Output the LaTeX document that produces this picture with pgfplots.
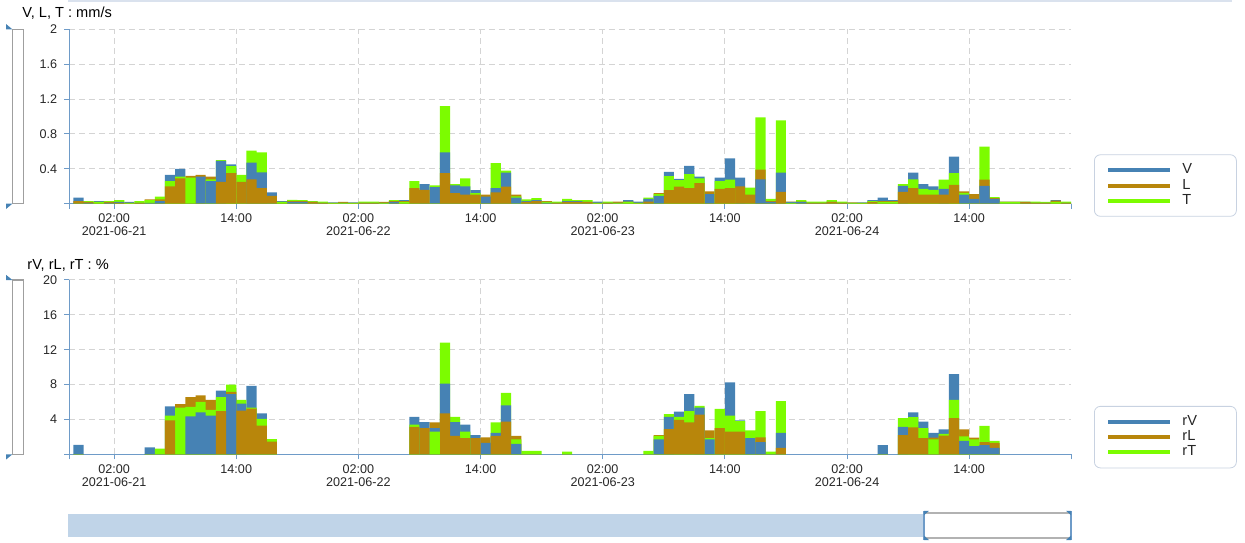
\documentclass[border=0pt]{standalone}
\usepackage{fontspec}
\setmainfont{Liberation Sans}
\usepackage{pgfplots}
\usepackage{pgfplotstable}
\pgfplotsset{compat=1.18}

\definecolor{cV}{RGB}{70,130,180}
\definecolor{cL}{RGB}{184,134,11}
\definecolor{cT}{RGB}{124,252,0}
\definecolor{axisblue}{RGB}{110,155,200}
\definecolor{gridgray}{RGB}{212,212,212}
\definecolor{navblue}{RGB}{192,212,232}
\definecolor{legendgray}{RGB}{200,210,225}
\definecolor{topline}{RGB}{218,226,238}

\newcommand\tickfont{\fontsize{6.3}{6.6}\selectfont}
\newcommand\titlefont{\fontsize{7.3}{8.5}\selectfont}

% hourly values, h = hours from 2021-06-21 00:00 (bar covers h..h+1)
\pgfplotstableread{
h V L T
-2 0.07 0.03 0
-1 0.01 0.02 0.03
0 0.03 0.02 0.02
1 0.01 0.02 0.03
2 0.02 0.01 0.04
3 0.02 0.01 0.01
4 0.01 0.01 0.03
5 0.01 0.05 0.04
6 0.03 0.05 0.08
7 0.33 0.20 0.26
8 0.40 0.29 0.31
9 0 0.32 0.30
10 0.31 0.33 0
11 0.26 0.31 0.28
12 0.49 0.25 0.50
13 0.45 0.35 0.43
14 0 0.25 0.33
15 0.47 0.28 0.61
16 0.36 0.18 0.59
17 0.13 0.09 0
18 0.03 0.02 0.02
19 0.02 0.03 0.045
20 0.02 0.03 0.04
21 0.02 0.02 0.03
22 0.01 0.01 0.025
23 0.015 0.01 0.01
24 0.01 0.02 0.01
25 0.015 0.01 0.01
26 0.01 0.01 0.025
27 0.01 0.01 0.025
28 0.01 0.02 0.01
29 0.02 0.03 0.04
30 0.04 0.03 0.02
31 0 0.18 0.26
32 0.225 0.16 0
33 0.19 0 0.21
34 0.59 0.35 1.12
35 0.21 0.12 0.225
36 0.20 0.105 0.29
37 0.155 0.105 0.12
38 0.08 0.105 0
39 0.18 0.13 0.465
40 0.355 0.195 0.38
41 0.07 0.105 0.085
42 0.03 0.02 0.05
43 0.04 0.03 0.065
44 0.01 0.03 0.02
45 0.01 0.01 0.025
46 0.03 0.02 0.055
47 0.03 0.02 0.04
48 0.02 0.02 0.04
49 0.025 0.01 0.01
50 0.01 0.01 0.025
51 0.01 0.025 0.01
52 0.04 0.025 0.02
53 0.025 0.01 0.01
54 0.055 0.025 0.07
55 0.09 0.12 0.11
56 0.365 0.155 0.315
57 0.285 0.195 0.27
58 0.435 0.18 0.34
59 0.31 0.235 0.29
60 0.11 0.14 0
61 0.30 0.17 0.26
62 0.52 0.18 0.275
63 0.30 0.20 0
64 0 0.105 0.185
65 0.28 0.39 0.99
66 0.02 0.03 0.055
67 0.355 0.135 0.955
68 0.02 0.025 0.01
69 0.02 0.025 0.04
70 0.01 0.01 0.025
71 0.01 0.01 0.025
72 0.02 0.02 0.04
73 0.01 0.01 0.025
74 0.01 0.015 0.01
75 0.015 0.01 0.01
76 0.04 0.02 0.03
77 0.07 0.03 0.02
78 0.04 0.03 0.02
79 0.205 0.135 0.225
80 0.355 0.18 0.28
81 0.225 0.105 0.17
82 0.20 0.105 0.16
83 0.17 0.105 0.275
84 0.54 0.215 0.35
85 0.105 0.14 0.125
86 0.055 0.11 0
87 0.205 0.275 0.655
88 0.055 0.065 0.075
89 0.02 0.025 0.02
90 0.02 0.025 0.02
91 0.02 0.02 0.025
92 0.01 0.01 0.025
93 0.01 0.01 0.02
94 0.04 0.035 0.02
95 0.01 0.01 0.025
}\topdata

\pgfplotstableread{
h rV rL rT
-2 1.07 0 0
5 0.8 0 0
6 0 0 0.65
7 5.5 3.9 4.45
8 0 5.75 5.35
9 4.35 6.55 5.45
10 4.8 6.75 6.0
11 4.45 6.25 5.1
12 7.3 4.95 6.55
13 6.9 7.15 8.0
14 5.8 5.0 6.25
15 7.85 5.25 5.35
16 4.7 3.3 4.05
17 0 1.45 1.75
31 4.3 3.15 3.4
32 3.7 3.0 0
33 3.0 3.65 2.6
34 8.1 4.7 12.8
35 3.7 2.1 4.3
36 3.4 1.85 2.6
37 2.2 1.85 0
38 1.3 1.95 0
39 2.45 2.1 3.65
40 5.6 3.75 7.05
41 1.2 2.1 1.7
42 0 0 0.4
43 0 0 0.4
46 0 0 0.3
54 0 0 0.4
55 1.7 2.2 2.1
56 4.3 2.9 4.6
57 4.9 3.95 4.3
58 6.9 3.65 4.95
59 5.35 4.55 5.55
60 1.7 2.75 1.85
61 0 3.0 5.2
62 8.25 2.6 4.45
63 3.9 2.6 3.8
64 1.85 0 2.75
65 1.4 1.95 4.95
66 0 0 0.3
67 2.45 0.75 6.1
77 1.05 0 0
79 3.15 2.2 4.15
80 4.8 3.1 4.25
81 3.75 1.85 3.0
82 2.45 1.9 1.7
83 2.85 2.15 2.35
84 9.2 4.15 6.25
85 1.55 2.85 2.05
86 0.95 1.9 1.7
87 1.05 1.4 3.25
88 0.75 1.3 1.55
}\botdata

\pgfplotsset{
  bar/.style={ybar, bar width=1, bar shift=0pt, draw=none, fill=#1, forget plot},
  chart/.style={
    scale only axis, width=500.85pt, height=87.2pt,
    xmin=-2.4, xmax=96, ymin=0,
    axis x line=bottom, axis y line=left,
    axis line style={-, draw=axisblue, line width=0.6pt},
    tick style={draw=axisblue, line width=0.5pt},
    tick align=outside, major tick length=2.5pt,
    xtick={2,14,26,38,50,62,74,86},
    xticklabels={{02:00\\2021-06-21},{14:00},{02:00\\2021-06-22},{14:00},{02:00\\2021-06-23},{14:00},{02:00\\2021-06-24},{14:00}},
    extra x ticks={-2.4,96}, extra x tick labels={}, extra x tick style={grid=none},
    extra y ticks={0}, extra y tick labels={}, extra y tick style={grid=none},
    xticklabel style={align=center, font=\tickfont, text=black!85, yshift=1pt},
    yticklabel style={font=\tickfont, text=black!85},
    grid=major,
    major grid style={draw=gridgray, dash pattern=on 3pt off 2pt, line width=0.5pt},
    /pgf/number format/assume math mode=true,
    legend image code/.code={\draw[##1, line width=2pt] (0pt,0pt) -- (31pt,0pt);},
    legend cell align=left,
    legend style={at={(1,0)}, anchor=south west, xshift=11.5pt,
      draw=legendgray, rounded corners=3pt, inner xsep=6pt, inner ysep=3.5pt,
      font=\titlefont, text=black!85, row sep=-0.9pt, nodes={inner sep=1pt},
      /tikz/every odd column/.append style={column sep=4pt}},
  }
}

% overlapping bars: tallest drawn behind, shortest in front
\newcommand{\ovbars}[4]{%
  \addplot[bar=cV] table[x expr=\thisrow{h}+0.5, y expr={and(\thisrow{#2}>=\thisrow{#3},\thisrow{#2}>=\thisrow{#4})*\thisrow{#2}}] {#1};
  \addplot[bar=cL] table[x expr=\thisrow{h}+0.5, y expr={and(\thisrow{#3}>=\thisrow{#2},\thisrow{#3}>=\thisrow{#4})*\thisrow{#3}}] {#1};
  \addplot[bar=cT] table[x expr=\thisrow{h}+0.5, y expr={and(\thisrow{#4}>=\thisrow{#2},\thisrow{#4}>=\thisrow{#3})*\thisrow{#4}}] {#1};
  \addplot[bar=cV] table[x expr=\thisrow{h}+0.5, y expr={(1-and(\thisrow{#2}>=\thisrow{#3},\thisrow{#2}>=\thisrow{#4}))*(1-and(\thisrow{#2}<=\thisrow{#3},\thisrow{#2}<=\thisrow{#4}))*\thisrow{#2}}] {#1};
  \addplot[bar=cL] table[x expr=\thisrow{h}+0.5, y expr={(1-and(\thisrow{#3}>=\thisrow{#2},\thisrow{#3}>=\thisrow{#4}))*(1-and(\thisrow{#3}<=\thisrow{#2},\thisrow{#3}<=\thisrow{#4}))*\thisrow{#3}}] {#1};
  \addplot[bar=cT] table[x expr=\thisrow{h}+0.5, y expr={(1-and(\thisrow{#4}>=\thisrow{#2},\thisrow{#4}>=\thisrow{#3}))*(1-and(\thisrow{#4}<=\thisrow{#2},\thisrow{#4}<=\thisrow{#3}))*\thisrow{#4}}] {#1};
  \addplot[bar=cV] table[x expr=\thisrow{h}+0.5, y expr={and(\thisrow{#2}<=\thisrow{#3},\thisrow{#2}<=\thisrow{#4})*\thisrow{#2}}] {#1};
  \addplot[bar=cL] table[x expr=\thisrow{h}+0.5, y expr={and(\thisrow{#3}<=\thisrow{#2},\thisrow{#3}<=\thisrow{#4})*\thisrow{#3}}] {#1};
  \addplot[bar=cT] table[x expr=\thisrow{h}+0.5, y expr={and(\thisrow{#4}<=\thisrow{#2},\thisrow{#4}<=\thisrow{#3})*\thisrow{#4}}] {#1};
}

\begin{document}
\begin{tikzpicture}
\useasboundingbox (0,0) rectangle (622.5pt,271pt);

% top frame line
\draw[topline, line width=0.8pt] (34pt,270.4pt) -- (616pt,270.4pt);

% range sliders on the left
\draw[gray!75, fill=white, line width=0.6pt] (6.15pt,169.15pt) rectangle (11.65pt,256.35pt);
\fill[cV] (3pt,259pt) -- (6.2pt,256.35pt) -- (3pt,256.35pt) -- cycle;
\fill[cV] (3pt,169.15pt) -- (6.2pt,169.15pt) -- (3pt,166.5pt) -- cycle;
\draw[gray!75, fill=white, line width=0.6pt] (6.15pt,43.85pt) rectangle (11.65pt,131pt);
\fill[cV] (3pt,133.6pt) -- (6.2pt,131pt) -- (3pt,131pt) -- cycle;
\fill[cV] (3pt,43.85pt) -- (6.2pt,43.85pt) -- (3pt,41.2pt) -- cycle;

% navigator at the bottom
\fill[navblue] (34pt,2.6pt) rectangle (462pt,14pt);
\draw[gray!60, line width=1pt] (462pt,14.4pt) -- (535.5pt,14.4pt) (462pt,2.2pt) -- (535.5pt,2.2pt);
\draw[axisblue, line width=0.6pt] (462pt,1pt) -- (462pt,15.6pt) (535.5pt,1pt) -- (535.5pt,15.6pt);
\fill[cV] (462pt,15.6pt) -- (464.5pt,15.6pt) -- (462pt,13.4pt) -- cycle;
\fill[cV] (535.5pt,15.6pt) -- (533pt,15.6pt) -- (535.5pt,13.4pt) -- cycle;
\fill[cV] (462pt,1pt) -- (464.5pt,1pt) -- (462pt,3.2pt) -- cycle;
\fill[cV] (535.5pt,1pt) -- (533pt,1pt) -- (535.5pt,3.2pt) -- cycle;

\node[anchor=west, inner sep=0pt, font=\titlefont] at (11pt,264.5pt) {V, L, T : mm/s};
\node[anchor=west, inner sep=0pt, font=\titlefont] at (13.5pt,138.5pt) {rV, rL, rT : \%};

\begin{axis}[chart, at={(34.65pt,169.15pt)}, anchor=south west,
  ymax=2, ytick={0.4,0.8,1.2,1.6,2},
  legend style={yshift=-6.5pt}]
\ovbars{\topdata}{V}{L}{T}
\addlegendimage{draw=cV}\addlegendentry{\makebox[20pt][l]{V}}
\addlegendimage{draw=cL}\addlegendentry{\makebox[20pt][l]{L}}
\addlegendimage{draw=cT}\addlegendentry{\makebox[20pt][l]{T}}
\end{axis}

\begin{axis}[chart, at={(34.65pt,43.85pt)}, anchor=south west,
  ymax=20, ytick={4,8,12,16,20},
  legend style={yshift=-7pt}]
\ovbars{\botdata}{rV}{rL}{rT}
\addlegendimage{draw=cV}\addlegendentry{\makebox[20pt][l]{rV}}
\addlegendimage{draw=cL}\addlegendentry{\makebox[20pt][l]{rL}}
\addlegendimage{draw=cT}\addlegendentry{\makebox[20pt][l]{rT}}
\end{axis}
\end{tikzpicture}
\end{document}
